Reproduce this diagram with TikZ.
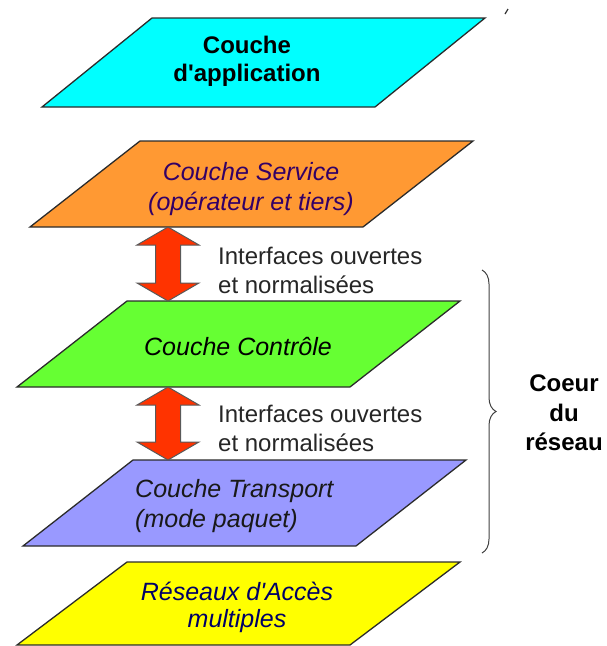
\documentclass[tikz,border=0pt]{standalone}
\usepackage{fontspec}
\setmainfont{Liberation Sans}
\usetikzlibrary{calc,decorations.pathreplacing}

\definecolor{appfill}{HTML}{00FFFF}
\definecolor{svcfill}{HTML}{FF9933}
\definecolor{ctlfill}{HTML}{66FF33}
\definecolor{trnfill}{HTML}{9999FF}
\definecolor{accfill}{HTML}{FFFF00}
\definecolor{arrowred}{HTML}{FF3300}
\definecolor{svcink}{HTML}{330066}
\definecolor{accink}{HTML}{000066}
\definecolor{edge}{HTML}{2B2B2B}

% One slanted layer: name, bottom-left x, top y, bottom y, fill colour
\newcommand\stratum[5]{%
  \path[layerbox, fill=#5] (#2,#4) coordinate (#1-sw)
    -- ++(333,0) coordinate (#1-se)
    -- ++(110,{#3-#4}) coordinate (#1-ne)
    -- ++(-333,0) coordinate (#1-nw) -- cycle;}

% Thick two-headed arrow between a top tip and a bottom tip
\newcommand\biarrow[2]{%
  \path[biarrowbox] (#1) -- ++(31,18) -- ++(-18.5,0)
    -- ($(#2)+(12.5,-18)$) -- ++(18.5,0) -- (#2) -- ++(-31,-18)
    -- ++(18.5,0) -- ($(#1)+(-12.5,18)$) -- ++(-18.5,0) -- cycle;}

\begin{document}
\begin{tikzpicture}[x=1pt,y=-1pt,
  layerbox/.style={draw=edge, line width=1.3pt, line join=miter},
  biarrowbox/.style={draw=black!65, line width=1pt, fill=arrowred, line join=miter},
  lbl/.style={align=center, inner sep=0pt, font=\fontsize{24}{29}\selectfont},
  ital/.style={align=center, inner sep=0pt, font=\fontsize{25}{30}\selectfont\itshape},
  note/.style={align=left, inner sep=0pt, anchor=west, text=black!85,
    font=\fontsize{24}{29}\selectfont},
  bracestyle/.style={draw=black!75, line width=1pt, decorate,
    decoration={brace, amplitude=14pt}}]
\useasboundingbox (0,0) rectangle (606,646);

% layers, top to bottom
\stratum{app}{42}{18}{107}{appfill}
\stratum{svc}{30}{141}{227}{svcfill}
\stratum{ctl}{17}{301}{387}{ctlfill}
\stratum{trn}{23}{460}{546}{trnfill}
\stratum{acc}{17}{562}{645}{accfill}

% stray pen mark at the top right
\draw[line width=1.2pt, black!80] (508,9) -- (505,14);

% layer captions
\node[lbl, font=\fontsize{24}{28}\selectfont\bfseries] (apptext) at (247,61) {Couche\\d\textquotesingle application};
\node[ital, text=svcink] (svctext) at (251,189) {Couche Service\\(opérateur et tiers)};
\node[ital, text=black] (ctltext) at (238,347) {Couche Contrôle};
\node[ital, text=black!90, align=left, anchor=west] (trntext) at (135,506) {Couche Transport\\(mode paquet)};
\node[ital, text=accink, font=\fontsize{25}{27}\selectfont\itshape] (acctext) at (237,607) {Réseaux d\textquotesingle Accès\\multiples};

% open interfaces between layers
\coordinate (axis) at (168,0);
\coordinate (i1top) at (axis |- svc-sw);
\coordinate (i1bot) at (axis |- ctl-nw);
\coordinate (i2top) at (axis |- ctl-sw);
\coordinate (i2bot) at (axis |- trn-nw);
\biarrow{i1top}{i1bot}
\biarrow{i2top}{i2bot}
\node[note] (if1) at (218,270) {Interfaces ouvertes\\et normalisées};
\node[note] (if2) at (218,428) {Interfaces ouvertes\\et normalisées};

% network core brace
\coordinate (bracetop) at (482,270);
\coordinate (bracebot) at (482,553);
\draw[bracestyle] (bracetop) -- (bracebot);
\node[lbl, font=\fontsize{24}{29.5}\selectfont\bfseries] (core) at (564,413) {Coeur\\du\\réseau};
\end{tikzpicture}
\end{document}
